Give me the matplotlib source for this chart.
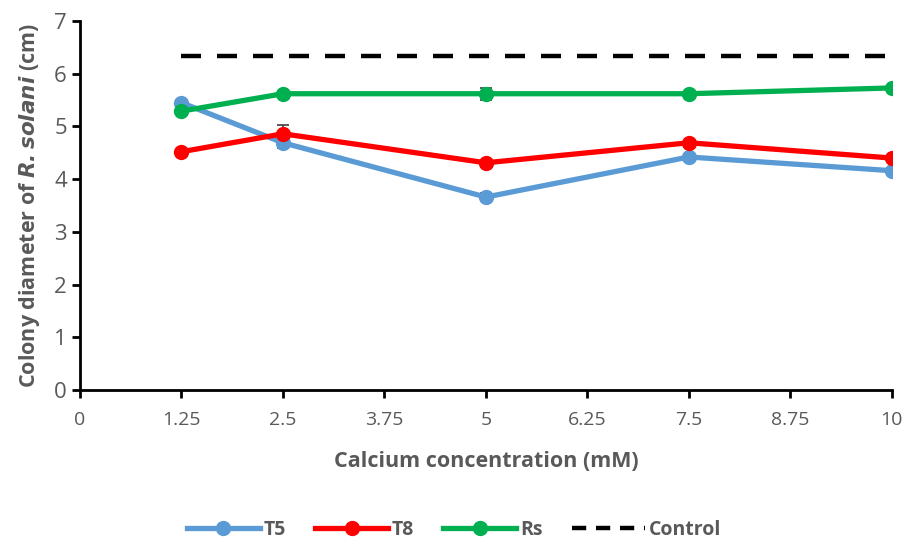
import matplotlib.pyplot as plt
from matplotlib.lines import Line2D

plt.rcParams['font.family'] = ['Open Sans', 'DejaVu Sans']

# calcium levels (mM) and colony diameters (cm)
calcium = [1.25, 2.5, 5, 7.5, 10]
t5 = [5.45, 4.69, 3.66, 4.42, 4.16]
t5_err = [0.05, 0.10, 0.07, 0.05, 0.06]
t8 = [4.52, 4.86, 4.31, 4.69, 4.40]
t8_err = [0.04, 0.16, 0.04, 0.04, 0.04]
rs = [5.29, 5.62, 5.62, 5.62, 5.73]
rs_err = [0.04, 0.05, 0.11, 0.04, 0.04]
control = [6.33, 6.33, 6.33, 6.33, 6.33]

x_ticks = [0, 1.25, 2.5, 3.75, 5, 6.25, 7.5, 8.75, 10]
x_ticklabels = ['0', '1.25', '2.5', '3.75', '5', '6.25', '7.5', '8.75', '10']
y_ticks = [0, 1, 2, 3, 4, 5, 6, 7]

grey = '#595959'

fig = plt.figure(figsize=(9.04, 5.42), dpi=100)
ax = fig.add_axes([0.0885, 0.2804, 0.898, 0.6809])

series = [
    (t5, t5_err, '#5B9BD5', 'T5'),
    (t8, t8_err, '#FF0000', 'T8'),
    (rs, rs_err, '#00B050', 'Rs'),
]
for vals, errs, col, lab in series:
    ax.errorbar(calcium, vals, yerr=errs, color=col, lw=3.8, marker='o',
                markersize=10, ecolor='#404040', elinewidth=1.2, capsize=4,
                capthick=1.2, zorder=3, label=lab)

ax.plot(calcium, control, color='black', lw=3.2, dashes=(4.5, 3.6),
        label='Control', zorder=2)

ax.set_xlim(0, 10)
ax.set_ylim(0, 7)
ax.set_xticks(x_ticks)
ax.set_xticklabels(x_ticklabels, fontsize=14)
ax.set_yticks(y_ticks)
ax.tick_params(axis='both', colors='black', labelcolor=grey, width=2,
               length=6, direction='out')
ax.tick_params(axis='y', labelsize=16)
ax.tick_params(axis='x', pad=9)

for side in ['top', 'right']:
    ax.spines[side].set_visible(False)
for side in ['left', 'bottom']:
    ax.spines[side].set_linewidth(2)

ax.set_xlabel('Calcium concentration (mM)', fontsize=15.5, fontweight='bold',
              color=grey, labelpad=16)
ax.set_ylabel('Colony diameter of $\\bfit{R. solani}$ (cm)', fontsize=15.5,
              fontweight='bold', color=grey, labelpad=9)

handles = [
    Line2D([], [], color='#5B9BD5', lw=3.8, marker='o', markersize=10),
    Line2D([], [], color='#FF0000', lw=3.8, marker='o', markersize=10),
    Line2D([], [], color='#00B050', lw=3.8, marker='o', markersize=10),
    Line2D([], [], color='black', lw=3.2, dashes=(3.2, 2.2)),
]
leg = fig.legend(handles, ['T5', 'T8', 'Rs', 'Control'], loc='center',
                 bbox_to_anchor=(0.502, 0.022), ncol=4, frameon=False,
                 handlelength=3.75, columnspacing=1.5, handletextpad=0.2,
                 prop={'size': 14, 'weight': 'bold'})
for t in leg.get_texts():
    t.set_color(grey)

fig.savefig('out.png', dpi=100)
